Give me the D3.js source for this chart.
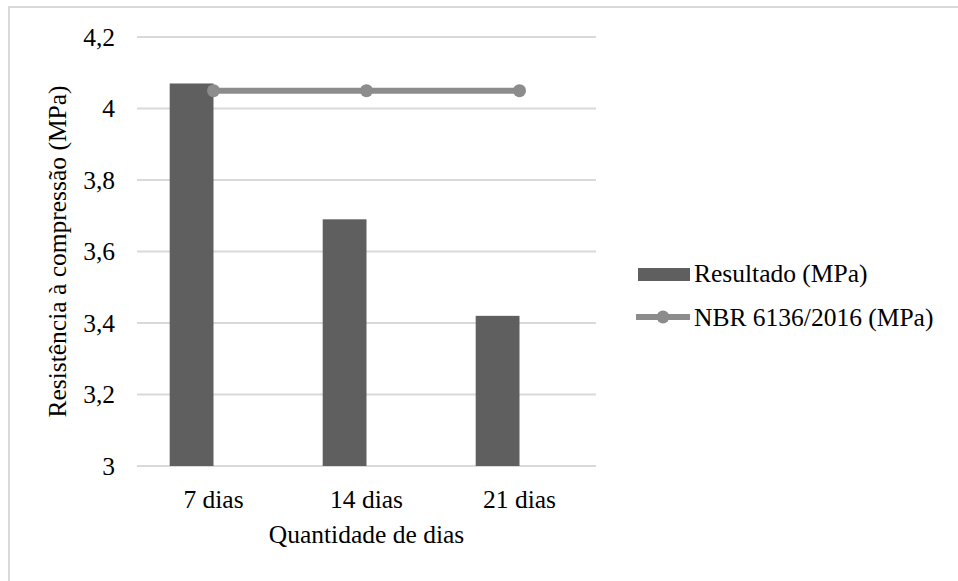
<!DOCTYPE html>
<html>
<head>
<meta charset="utf-8">
<script src="https://cdn.jsdelivr.net/npm/d3@7"></script>
<style>
  html, body { margin: 0; padding: 0; background: #fff; }
  svg { display: block; }
</style>
</head>
<body>
<svg id="chart" width="958" height="581"></svg>
<script>
const categories = ["7 dias", "14 dias", "21 dias"];
const resultado = [4.07, 3.69, 3.42];
const nbr = [4.05, 4.05, 4.05];
const yTicks = [3, 3.2, 3.4, 3.6, 3.8, 4, 4.2];
const seriesNames = ["Resultado (MPa)", "NBR 6136/2016 (MPa)"];
const yTitle = "Resistência à compressão (MPa)";
const xTitle = "Quantidade de dias";

const svg = d3.select("#chart")
  .attr("font-family", "'Liberation Serif', Tinos, 'Times New Roman', 'DejaVu Serif', serif");
const W = 958, H = 581;
const plot = { left: 137, right: 596, top: 37, bottom: 466 };
const fontSize = 25.5;

// outer border
svg.append("rect")
  .attr("x", 9).attr("y", 7).attr("width", W + 20).attr("height", H + 20)
  .attr("fill", "#fff").attr("stroke", "#d9d9d9").attr("stroke-width", 2);

const x = d3.scaleBand().domain(categories).range([plot.left, plot.right]).paddingInner(0).paddingOuter(0);
const sub = d3.scaleBand().domain(["bar", "line"]).range([0, x.bandwidth()]).paddingInner(0).paddingOuter(0.746);
const y = d3.scaleLinear().domain([3, 4.2]).range([plot.bottom, plot.top]);

// gridlines
svg.append("g").selectAll("line").data(yTicks).join("line")
  .attr("x1", plot.left).attr("x2", plot.right)
  .attr("y1", d => y(d)).attr("y2", d => y(d))
  .attr("stroke", "#d9d9d9").attr("stroke-width", 2);

// y tick labels
const fmt = d => String(d).replace(".", ",");
svg.append("g").selectAll("text").data(yTicks).join("text")
  .attr("x", 115).attr("y", d => y(d)).attr("dy", "0.35em")
  .attr("text-anchor", "end").attr("font-size", fontSize)
  .text(fmt);

// bars
svg.append("g").selectAll("rect").data(categories).join("rect")
  .attr("x", (c) => x(c) + sub("bar"))
  .attr("width", sub.bandwidth())
  .attr("y", (c, i) => y(resultado[i]))
  .attr("height", (c, i) => y(3) - y(resultado[i]))
  .attr("fill", "#5f5f5f");

// line series (positioned at category centres)
const cx = c => x(c) + x.bandwidth() / 2;
const line = d3.line().x((d, i) => cx(categories[i])).y(d => y(d));
svg.append("path").datum(nbr).attr("d", line)
  .attr("fill", "none").attr("stroke", "#8c8c8c").attr("stroke-width", 6);
svg.append("g").selectAll("circle").data(nbr).join("circle")
  .attr("cx", (d, i) => cx(categories[i])).attr("cy", d => y(d)).attr("r", 6.5)
  .attr("fill", "#8c8c8c");

// x tick labels
svg.append("g").selectAll("text").data(categories).join("text")
  .attr("x", c => cx(c)).attr("y", 508)
  .attr("text-anchor", "middle").attr("font-size", fontSize)
  .text(d => d);

// axis titles
svg.append("text")
  .attr("x", (plot.left + plot.right) / 2).attr("y", 543)
  .attr("text-anchor", "middle").attr("font-size", fontSize)
  .text(xTitle);
svg.append("text")
  .attr("transform", `translate(66,${(plot.top + plot.bottom) / 2}) rotate(-90)`)
  .attr("text-anchor", "middle").attr("font-size", fontSize)
  .text(yTitle);

// legend
const lg = svg.append("g");
lg.append("rect").attr("x", 638).attr("y", 268).attr("width", 52).attr("height", 13).attr("fill", "#5f5f5f");
lg.append("text").attr("x", 694).attr("y", 282).attr("font-size", fontSize).text(seriesNames[0]);
lg.append("line").attr("x1", 636).attr("x2", 690).attr("y1", 317).attr("y2", 317)
  .attr("stroke", "#8c8c8c").attr("stroke-width", 6);
lg.append("circle").attr("cx", 663).attr("cy", 317).attr("r", 6.5).attr("fill", "#8c8c8c");
lg.append("text").attr("x", 694).attr("y", 326).attr("font-size", fontSize).text(seriesNames[1]);
</script>
</body>
</html>
